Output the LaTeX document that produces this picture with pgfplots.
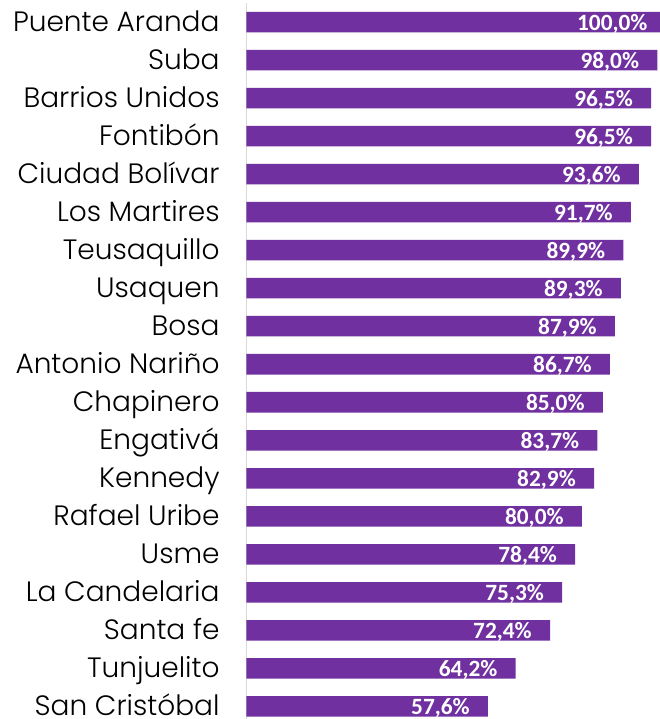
\documentclass[border=0pt]{standalone}
\usepackage{fontspec}
\usepackage{pgfplots}
\pgfplotsset{compat=1.18}
\newfontfamily\catfont{Poppins Light}
\newfontfamily\valfont{Carlito}
\definecolor{barc}{HTML}{7030A0}
\definecolor{axc}{HTML}{D9D9D9}
\begin{document}
\begin{tikzpicture}[x=0.75pt,y=0.75pt]
\path[use as bounding box] (0,0) rectangle (660,719);
\begin{axis}[
  at={(246.5*0.75pt,0pt)}, anchor=south west,
  scale only axis, width=419.2*0.75pt, height=716*0.75pt,
  xmin=0, xmax=100, ymin=-0.5, ymax=18.33, y dir=reverse,
  axis x line=none, axis y line=left,
  y axis line style={draw=axc, line width=1.2pt, -},
  ytick={0,...,18}, major tick length=0pt,
  yticklabels={Puente Aranda,Suba,Barrios Unidos,Fontibón,Ciudad Bolívar,Los Martires,Teusaquillo,Usaquen,Bosa,Antonio Nariño,Chapinero,Engativá,Kennedy,Rafael Uribe,Usme,La Candelaria,Santa fe,Tunjuelito,San Cristóbal},
  yticklabel style={font=\catfont\fontsize{21}{21}\selectfont, text=black, anchor=base east, inner sep=0pt, xshift=-20pt, yshift=-7pt},
  xbar, bar width=0.54, bar shift=0pt,
  point meta=x,
  nodes near coords={\pgfmathprintnumber[fixed,fixed zerofill,precision=1,use comma,assume math mode=true]{\pgfplotspointmeta}\%},
  nodes near coords style={font=\valfont\bfseries\fontsize{17.5}{17.5}\selectfont, text=white, anchor=base east, inner sep=0pt, xshift=-13.5pt, yshift=-6.3pt},
]
\addplot[fill=barc, draw=none] coordinates {
(100.0,0) (98.0,1) (96.5,2) (96.5,3) (93.6,4) (91.7,5) (89.9,6) (89.3,7) (87.9,8) (86.7,9)
(85.0,10) (83.7,11) (82.9,12) (80.0,13) (78.4,14) (75.3,15) (72.4,16) (64.2,17) (57.6,18)
};
\end{axis}
\end{tikzpicture}
\end{document}
